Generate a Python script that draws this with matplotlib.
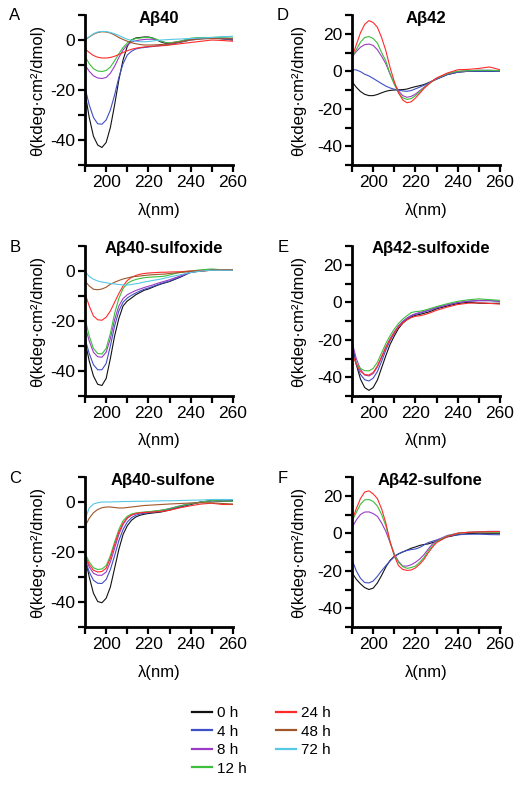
import matplotlib
matplotlib.use("Agg")
import matplotlib.pyplot as plt
from matplotlib.lines import Line2D
from matplotlib.ticker import MultipleLocator, FuncFormatter

plt.rcParams['font.family'] = ['Liberation Sans', 'DejaVu Sans']

# -----------------------
# DATA (wavelength in nm, ellipticity in kdeg.cm2/dmol)
# -----------------------
wl = [190, 192, 194, 196, 198, 200, 202, 204, 206, 208, 210, 212, 214, 216,
      218, 220, 222, 224, 226, 228, 230, 235, 240, 245, 250, 255, 260]

times = ["0 h", "4 h", "8 h", "12 h", "24 h", "48 h", "72 h"]
colors = ["#111111", "#3f4fc4", "#9a3cc4", "#3cbf3c", "#ff2b2b", "#a0562a", "#55c8e6"]

# A: Abeta40
ab40_0h = [-21, -31, -38.5, -42, -43, -41, -35, -26, -16, -8, -2.5, 0, 0.8, 1, 1.2, 1.2, 0.8, 0, -0.8, -1.3, -1.5, -0.7, 0.5, 0.8, 1, 0.5, 0]
ab40_4h = [-19, -26, -31, -33.5, -33.7, -32, -28, -22, -15, -9.5, -6, -4.5, -3.6, -3.2, -3, -2.8, -2.6, -2.4, -2.2, -2, -1.8, -1, 0, 0.5, 0.8, 0.5, 0]
ab40_8h = [-10, -12.5, -14.3, -15.2, -15.4, -15, -13.3, -10.5, -7, -4, -2, -0.8, -0.3, 0, 0.2, 0.3, 0.3, 0, -0.5, -1, -1.2, -0.5, 0.5, 0.8, 1, 0.8, 0.5]
ab40_12h = [-6.5, -9.5, -11.5, -12.4, -12.6, -12.2, -10.8, -8.3, -5.5, -3, -1.2, 0, 0.6, 0.8, 1, 1, 0.8, 0.2, -0.5, -1, -1.2, -0.5, 0.7, 1, 1, 1.2, 1.2]
ab40_24h = [-3.5, -5, -6.2, -6.9, -7.2, -7.2, -7, -6.5, -5.8, -5, -4.3, -3.7, -3.3, -3, -2.8, -2.6, -2.5, -2.4, -2.3, -2.2, -2, -1.5, -1, -0.5, 0, -0.2, -0.5]
ab40_48h = [0, 1.2, 2.3, 3, 3.3, 3.2, 2.8, 2, 1, 0.2, -0.5, -1.1, -1.5, -1.8, -2, -2, -2, -1.9, -1.8, -1.7, -1.5, -0.8, 0, 0.4, 0.6, 0.5, 0.5]
ab40_72h = [0, 1.3, 2.5, 3.2, 3.4, 3.4, 3, 2.5, 1.8, 1, 0.3, -0.2, -0.5, -0.7, -0.7, -0.6, -0.4, -0.2, 0, 0.1, 0.2, 0.4, 0.6, 0.8, 1, 1.3, 1.5]

# B: Abeta40-sulfoxide
ab40so_0h = [-28, -36, -42, -45.3, -45.8, -43, -35, -26, -19, -14, -12, -10.8, -9.5, -8.6, -7.7, -7.2, -6.5, -5.8, -5.2, -4.7, -4.2, -2.5, -0.5, 0, 0.5, 0.5, 0.3]
ab40so_4h = [-27, -33, -37.5, -39.5, -39.5, -37, -30, -22, -16, -12.5, -10.8, -9.7, -8.8, -8, -7.3, -6.8, -6.2, -5.6, -5, -4.5, -4, -2.3, -0.5, 0, 0.4, 0.5, 0.3]
ab40so_8h = [-22, -28, -32.5, -34.3, -34.5, -32.5, -27, -19.5, -14, -11, -9.5, -8.6, -7.8, -7.2, -6.6, -6.1, -5.6, -5, -4.5, -4, -3.5, -2, -0.3, 0.2, 0.5, 0.5, 0.3]
ab40so_12h = [-19, -26, -31, -33, -33.2, -31, -25, -17, -11, -7, -5, -4, -3.4, -3, -2.7, -2.5, -2.4, -2.3, -2.2, -2, -1.6, -0.5, 0, 0.5, 0.8, 0.5, 0.5]
ab40so_24h = [-9, -14, -18, -19.5, -19.7, -18.5, -16, -12.5, -9, -6, -3.8, -2.5, -1.8, -1.3, -1, -0.8, -0.7, -0.6, -0.5, -0.5, -0.4, -0.3, 0, 0, 0.3, 0.4, 0.5]
ab40so_48h = [-4, -6, -7.3, -7.5, -7.2, -6.5, -5.3, -4.5, -3.8, -3.2, -2.8, -2.4, -2.2, -2, -1.8, -1.6, -1.5, -1.4, -1.3, -1.2, -1, -0.6, -0.2, 0, 0.3, 0.4, 0.4]
ab40so_72h = [0, -2.2, -3.3, -4, -4.4, -4.7, -5, -5.2, -5.4, -5.6, -5.6, -5.4, -5.1, -4.8, -4.4, -4.1, -3.8, -3.5, -3.2, -2.8, -2.4, -1.5, -0.6, 0, 0.3, 0.3, 0.3]

# C: Abeta40-sulfone
ab40sn_0h = [-22, -30, -36.5, -39.8, -40.3, -38.5, -34, -26.5, -19, -13, -9.5, -7.3, -6, -5.3, -4.9, -4.6, -4.4, -4.2, -4, -3.6, -3.2, -2, -1, 0, 0.5, 0.3, 0.5]
ab40sn_4h = [-23, -28, -31.3, -32.5, -32.6, -31, -27, -21.5, -15.5, -11, -8, -6.3, -5.3, -4.8, -4.5, -4.3, -4.1, -3.9, -3.6, -3.3, -2.9, -1.8, -0.8, 0, 0.5, 0.5, 0.3]
ab40sn_8h = [-22, -26, -28.5, -29.3, -29.3, -28, -24, -18.5, -13, -9, -6.5, -5.3, -4.7, -4.4, -4.2, -4, -3.8, -3.6, -3.3, -3, -2.6, -1.5, -0.6, 0, 0.6, 0.4, 0.3]
ab40sn_12h = [-20.5, -24, -26.3, -27, -26.8, -25.5, -21.5, -16, -11, -7.5, -5.7, -4.8, -4.4, -4.2, -4, -3.9, -3.7, -3.5, -3.3, -3, -2.7, -1.6, -0.7, 0, 0.6, 0.4, 0.3]
ab40sn_24h = [-21.5, -25, -27.3, -28, -27.8, -26.5, -22.5, -17, -12, -8.5, -6.3, -5.2, -4.6, -4.3, -4.2, -4.1, -4, -3.9, -3.8, -3.6, -3.3, -2.3, -1.5, -0.8, -0.5, -1, -1]
ab40sn_48h = [-9.8, -6.5, -4.3, -3, -2.3, -2, -2, -2.2, -2.4, -2.4, -2.2, -2, -1.8, -1.6, -1.4, -1.3, -1.2, -1.1, -1, -0.9, -0.8, -0.6, -0.4, -0.3, -0.3, -0.6, -0.8]
ab40sn_72h = [-7, -2.4, -0.8, -0.3, 0, 0, 0, 0.1, 0.1, 0.2, 0.2, 0.2, 0.3, 0.3, 0.3, 0.3, 0.4, 0.4, 0.5, 0.5, 0.5, 0.6, 0.7, 0.8, 1, 1, 1]

# D: Abeta42
ab42_0h = [-5.5, -8.5, -10.8, -12.3, -13, -13, -12.4, -11.5, -10.7, -10.2, -10, -9.9, -9.8, -9.5, -8.8, -8.2, -7.7, -7.1, -6.2, -5.2, -4.2, -1.8, -0.5, 0, 0, 0, 0]
ab42_4h = [0.9, 0.7, -0.2, -1.6, -2.5, -3.8, -5.2, -6.6, -7.9, -8.9, -9.6, -10.1, -10.5, -10.7, -10.3, -9.4, -8.5, -7.5, -6.4, -5.3, -4.2, -1.8, -0.5, 0, 0, 0, 0]
ab42_8h = [7.5, 10.5, 12.8, 14.2, 14.5, 13.8, 11.5, 8, 4, -1.5, -6.5, -10.5, -13, -13.9, -13.4, -12.2, -10.4, -8.6, -6.8, -5.2, -3.8, -1.4, -0.2, 0.3, 0.5, 0.5, 0.3]
ab42_12h = [7.5, 11.5, 15.5, 18, 18.5, 17.5, 15, 10, 5.5, -1.5, -7, -11.5, -14.2, -15, -14.6, -13, -11, -8.9, -7, -5.3, -3.8, -1.3, 0, 0.3, 0.5, 0.5, 0.3]
ab42_24h = [7.5, 14, 20.5, 25, 27, 26, 23.5, 18, 11, 2, -5.5, -11.5, -15.3, -16.8, -16.3, -14.3, -11.8, -9.2, -7.2, -5.2, -3.6, -1, 0.8, 1, 1.5, 2.3, 0.8]

# E: Abeta42-sulfoxide
ab42so_0h = [-22, -33, -41, -45.5, -47, -45.5, -41.5, -35, -28.5, -22.5, -18, -14, -11.2, -9.2, -7.8, -7, -6.5, -5.9, -5.3, -4.5, -3.5, -2, -0.7, 0, -0.5, -0.6, -0.5]
ab42so_4h = [-24, -33, -38.5, -41.3, -42, -40.5, -37, -31.5, -25.5, -20.5, -16.5, -13, -10.5, -8.7, -7.3, -6.4, -5.8, -5.2, -4.5, -3.8, -3, -1.5, -0.2, 0.5, 0.8, 0.8, 0.5]
ab42so_8h = [-21, -30, -35.8, -38.8, -39.3, -38, -34.5, -29.5, -24, -19.5, -15.8, -12.6, -10.2, -8.4, -7, -6.1, -5.5, -4.9, -4.3, -3.6, -2.9, -1.4, -0.2, 0.6, 1, 1, 0.5]
ab42so_12h = [-28, -32.5, -35.3, -36.5, -36.6, -35.3, -32, -27, -22, -17.8, -14.3, -11.3, -9, -7.2, -5.5, -5, -4.8, -4.3, -3.7, -3, -2.3, -0.8, 0.5, 1.3, 1.8, 1.4, 1]
ab42so_24h = [-27, -33, -36.8, -38.6, -38.8, -37.5, -34, -29, -24, -19.8, -16.2, -13.2, -11, -9.4, -8.2, -7.5, -7.2, -6.7, -6, -5.2, -4.3, -2.6, -1.2, -0.5, -0.3, -0.6, -1]

# F: Abeta42-sulfone
ab42sn_0h = [-21, -24.5, -27, -29, -30, -29.3, -26.5, -22.5, -18, -14.5, -12.3, -11, -10, -9, -8, -7.3, -6.5, -6, -5.7, -5, -4.2, -2, -0.8, -0.2, 0, 0, 0]
ab42sn_4h = [-14, -20, -24, -26.3, -26.5, -25.5, -23, -20, -17.3, -14.8, -12.6, -11, -9.9, -9.2, -8.7, -8.4, -7.6, -6.3, -5, -4.3, -3.6, -1.7, -0.8, -0.5, -0.5, -0.7, -0.8]
ab42sn_8h = [3, 7, 10, 11.3, 11.4, 10.5, 9, 5.5, 1, -5, -11, -15, -17.5, -17.5, -16.8, -15.5, -13.8, -11.5, -8.5, -5.8, -3.8, -1.2, 0, 0.5, 0.8, 1, 1]
ab42sn_12h = [6.5, 11, 15.5, 17.8, 18, 17, 14.5, 10, 4, -4.5, -11.5, -15.5, -17.8, -18.7, -18.3, -17.5, -15.5, -13, -9.5, -6.8, -4.5, -1.5, 0, 0.5, 0.6, 0.6, 0.5]
ab42sn_24h = [6.8, 13, 18.5, 22, 22.6, 21, 18.5, 13, 5.5, -4.5, -12, -17.3, -19.3, -19.8, -19.6, -18.5, -16.5, -14, -10.5, -7.5, -5, -1.8, 0, 0.5, 0.7, 0.8, 0.9]

panels = [
    ("A", "A\u03b240", [ab40_0h, ab40_4h, ab40_8h, ab40_12h, ab40_24h, ab40_48h, ab40_72h], (-50, 10)),
    ("B", "A\u03b240-sulfoxide", [ab40so_0h, ab40so_4h, ab40so_8h, ab40so_12h, ab40so_24h, ab40so_48h, ab40so_72h], (-50, 10)),
    ("C", "A\u03b240-sulfone", [ab40sn_0h, ab40sn_4h, ab40sn_8h, ab40sn_12h, ab40sn_24h, ab40sn_48h, ab40sn_72h], (-50, 10)),
    ("D", "A\u03b242", [ab42_0h, ab42_4h, ab42_8h, ab42_12h, ab42_24h], (-50, 30)),
    ("E", "A\u03b242-sulfoxide", [ab42so_0h, ab42so_4h, ab42so_8h, ab42so_12h, ab42so_24h], (-50, 30)),
    ("F", "A\u03b242-sulfone", [ab42sn_0h, ab42sn_4h, ab42sn_8h, ab42sn_12h, ab42sn_24h], (-50, 30)),
]

# -----------------------
# LAYOUT (pixels)
# -----------------------
W, H = 523, 786
col_left = [85, 352]
row_top = [15, 246, 477]
ax_w, ax_h = 148, 150

fig = plt.figure(figsize=(W / 100, H / 100), dpi=100)


def label20(v, pos):
    v = int(round(v))
    return str(v) if v % 20 == 0 else ""


for k, (letter, title, series, ylim) in enumerate(panels):
    col, row = k // 3, k % 3
    left, top = col_left[col], row_top[row]
    ax = fig.add_axes([left / W, 1 - (top + ax_h) / H, ax_w / W, ax_h / H])

    for i, y in enumerate(series):
        ax.plot(wl, y, color=colors[i], lw=0.8)

    ax.set_xlim(190, 260)
    ax.set_ylim(*ylim)
    ax.xaxis.set_major_locator(MultipleLocator(10))
    ax.yaxis.set_major_locator(MultipleLocator(10))
    ax.xaxis.set_major_formatter(FuncFormatter(label20))
    ax.yaxis.set_major_formatter(FuncFormatter(label20))

    for s in ["top", "right"]:
        ax.spines[s].set_visible(False)
    for s in ["left", "bottom"]:
        ax.spines[s].set_linewidth(2)
    ax.tick_params(direction="out", length=5, width=1.6, labelsize=12.5, pad=2)

    ax.set_xlabel("\u03bb(nm)", fontsize=12)
    ax.xaxis.set_label_coords(0.5, -0.25)
    ax.set_ylabel("\u03b8(kdeg\u00b7cm\u00b2/dmol)", fontsize=12)
    ax.yaxis.set_label_coords(-0.27 if col == 0 else -0.31, 0.5)

    tx = 0.5 if len(title) < 8 else 0.53
    ax.text(tx, 0.98, title, transform=ax.transAxes, ha="center", va="center",
            fontsize=12, fontweight="bold")
    fig.text((15 if col == 0 else 283) / W, 1 - (top + 1) / H, letter,
             ha="center", va="center", fontsize=12)

# -----------------------
# LEGEND
# -----------------------
handles = [Line2D([], [], color=c, lw=1.6) for c in colors]
fig.legend(handles, times, loc="upper left", bbox_to_anchor=(192 / W, 1 - 706 / H),
           ncol=2, frameon=False, fontsize=11, handlelength=1.3, handletextpad=0.35,
           columnspacing=1.9, labelspacing=0.3, borderpad=0, borderaxespad=0)

fig.savefig("out.png", dpi=100)
